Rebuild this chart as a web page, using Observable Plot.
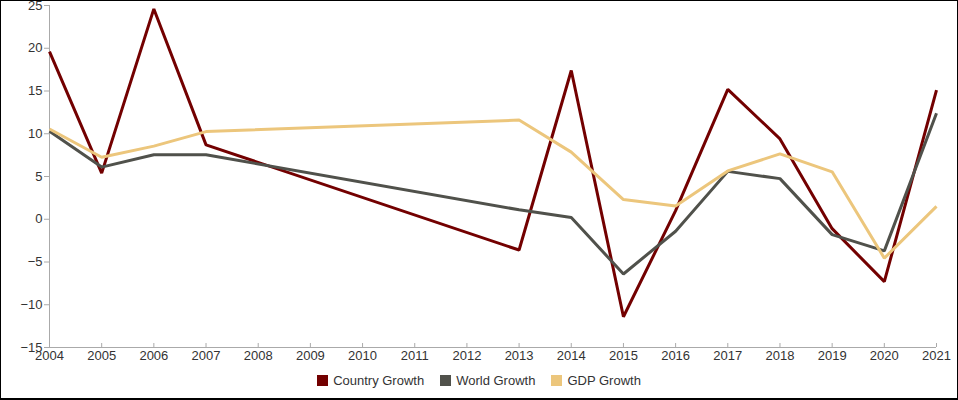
<!DOCTYPE html>
<html>
<head>
<meta charset="utf-8">
<script src="https://cdn.jsdelivr.net/npm/d3@7"></script>
<script src="https://cdn.jsdelivr.net/npm/@observablehq/plot@0.6"></script>
<style>
  html, body { margin: 0; padding: 0; background: #fff; }
  #frame { box-sizing: border-box; width: 958px; height: 400px; border: 1px solid #000; border-bottom-width: 2px; overflow: hidden; font-family: "Liberation Sans", Arial, sans-serif; }
  #legend { display: flex; justify-content: center; align-items: center; gap: 16px; font-size: 13px; color: #333; margin-top: 2px; }
  #legend .item { display: flex; align-items: center; }
  #legend .sw { width: 11px; height: 11px; margin-right: 5px; }
</style>
</head>
<body>
<div id="frame"><div id="chart"></div><div id="legend"></div></div>
<script>
const years = [2004, 2005, 2006, 2007, 2013, 2014, 2015, 2016, 2017, 2018, 2019, 2020, 2021];
const countryGrowth = [19.6, 5.4, 24.6, 8.7, -3.6, 17.4, -11.4, 1.0, 15.2, 9.4, -1.1, -7.3, 15.1];
const worldGrowth = [10.3, 6.1, 7.55, 7.55, 1.1, 0.2, -6.4, -1.4, 5.6, 4.75, -1.8, -3.7, 12.4];
const gdpGrowth = [10.55, 7.25, 8.55, 10.25, 11.6, 7.85, 2.3, 1.55, 5.65, 7.65, 5.55, -4.55, 1.5];
const seriesNames = ["Country Growth", "World Growth", "GDP Growth"];
const seriesColors = ["#730000", "#50514b", "#ecc67c"];
const xTicks = d3.range(2004, 2022);
const yTicks = [-15, -10, -5, 0, 5, 10, 15, 20, 25];

const seriesValues = [countryGrowth, worldGrowth, gdpGrowth];
const data = seriesNames.flatMap((name, s) =>
  years.map((year, i) => ({ series: name, year, value: seriesValues[s][i] }))
);

const chart = Plot.plot({
  width: 956,
  height: 370,
  marginTop: 4,
  marginLeft: 48,
  marginRight: 21,
  marginBottom: 24,
  style: { fontFamily: '"Liberation Sans", Arial, sans-serif', fontSize: "13px", color: "#333", background: "#fff" },
  x: { domain: [2004, 2021] },
  y: { domain: [-15, 25] },
  color: { domain: seriesNames, range: seriesColors },
  marks: [
    Plot.ruleX([2004], { stroke: "#aaa" }),
    Plot.ruleY([-15], { stroke: "#aaa" }),
    Plot.axisY({ ticks: yTicks, tickSize: 5, tickPadding: 2, stroke: "#aaa", color: "#333", label: null, fontSize: 13 }),
    Plot.axisX({ ticks: xTicks, tickFormat: d => String(d), tickSize: -4, tickPadding: 7, stroke: "#aaa", color: "#333", label: null, fontSize: 13 }),
    Plot.line(data, { x: "year", y: "value", z: "series", stroke: "series", strokeWidth: 3, strokeLinejoin: "miter", strokeLinecap: "butt" })
  ]
});
document.getElementById("chart").appendChild(chart);

const legend = document.getElementById("legend");
seriesNames.forEach((name, i) => {
  const item = document.createElement("div");
  item.className = "item";
  const sw = document.createElement("div");
  sw.className = "sw";
  sw.style.background = seriesColors[i];
  const label = document.createElement("span");
  label.textContent = name;
  item.appendChild(sw);
  item.appendChild(label);
  legend.appendChild(item);
});
</script>
</body>
</html>
